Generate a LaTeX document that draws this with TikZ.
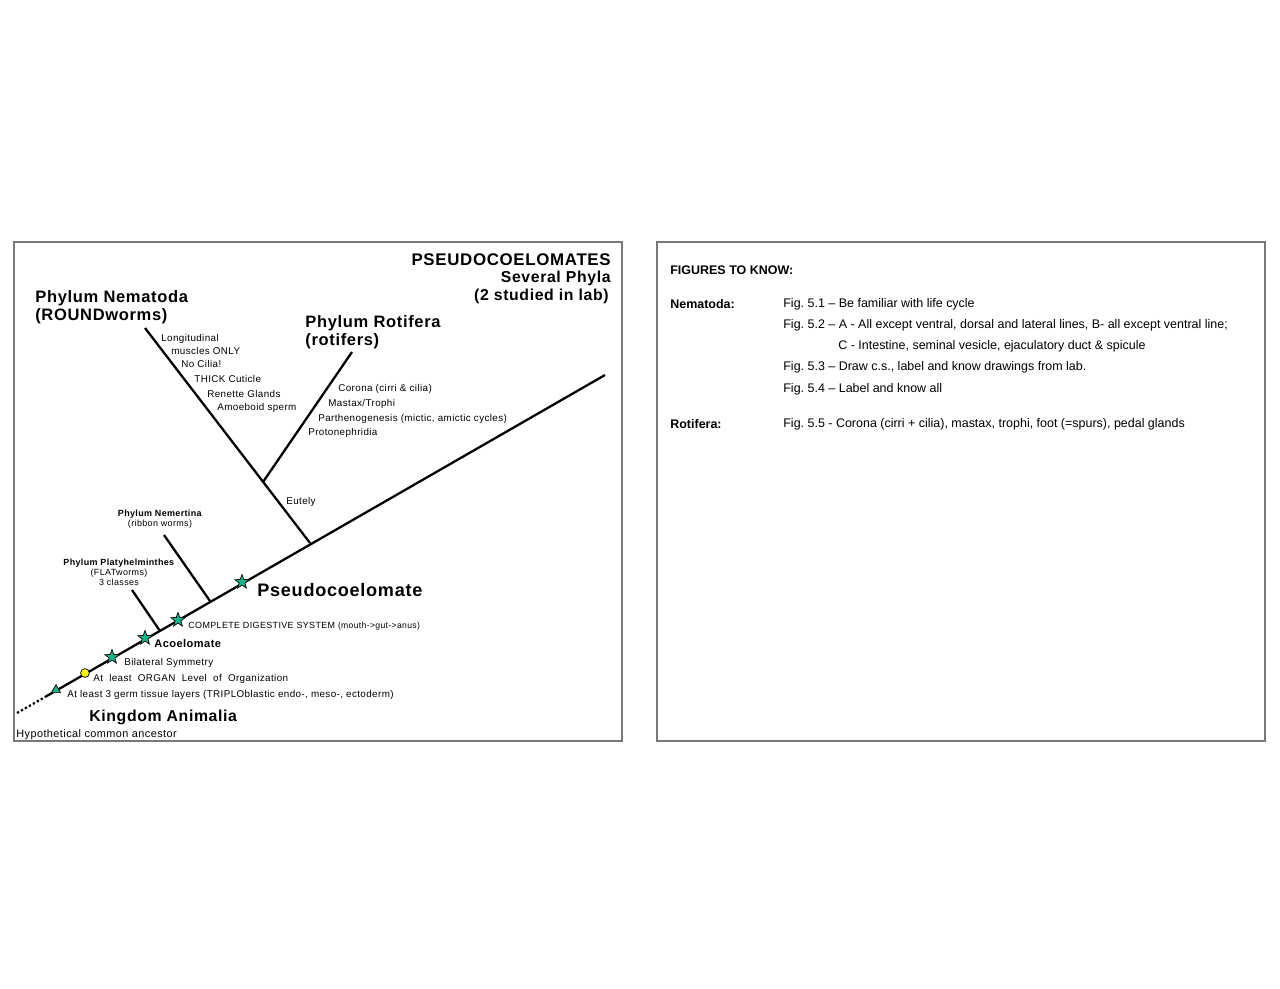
\documentclass[tikz,border=0pt]{standalone}
\usepackage{fontspec}
\setmainfont{Liberation Sans}
\newfontfamily\spaced[LetterSpace=4]{Liberation Sans}
\usepackage{tikz}
\usetikzlibrary{shapes.geometric,positioning}
\usepackage{xcolor}
\definecolor{framegray}{RGB}{120,120,120}
\definecolor{stargreen}{RGB}{26,178,138}
\definecolor{dotyellow}{RGB}{255,250,0}
\frenchspacing

\tikzset{
  panel/.style={draw=framegray,line width=0.6pt},
  branch/.style={line width=1.3pt},
  bigtaxon/.style={anchor=west,inner sep=0pt,align=left,font=\spaced\bfseries\fontsize{9.4}{10.2}\selectfont},
  smalltaxon/.style={inner sep=0pt,align=center,font=\spaced\fontsize{5.1}{5.7}\selectfont},
  trait/.style={anchor=west,inner sep=0pt,font=\spaced\fontsize{5.6}{6.5}\selectfont},
  marker/.style={draw=black,line width=0.4pt,inner sep=0pt},
  traitstar/.style={marker,star,star points=5,star point ratio=2.4,fill=stargreen,minimum size=8.5pt},
  figtext/.style={anchor=west,inner sep=0pt,font=\fontsize{7.1}{8.5}\selectfont},
}

\begin{document}
\begin{tikzpicture}[x=0.02cm,y=-0.02cm]
        \useasboundingbox (0,0) rectangle (1280,989);

        % Panel frames
        \draw[panel] (14,242) rectangle (622,741);
        \draw[panel] (657,242) rectangle (1265,741);

        % Title decoration
        \node[inner sep=0pt,anchor=east,font=\spaced\bfseries\fontsize{9.6}{11}\selectfont] (title) at (611,260) {PSEUDOCOELOMATES};
        \node[inner sep=0pt,anchor=east,font=\spaced\bfseries\fontsize{9}{10}\selectfont] (several) at (611,278) {Several Phyla};
        \node[inner sep=0pt,anchor=east,font=\spaced\bfseries\fontsize{9}{10}\selectfont] (studied) at (609,296) {(2 studied in lab)};

        % Tree points
        \coordinate (ancestor) at (17,713);
        \coordinate (root) at (45,697);
        \coordinate (top) at (605,375);
        \coordinate (forkPlaty) at (160,631);
        \coordinate (forkNemer) at (210,601);
        \coordinate (forkPseudo) at (310,543);
        \coordinate (forkRoti) at (263,482);
        \coordinate (endPlaty) at (132,590);
        \coordinate (endNemer) at (164,535);
        \coordinate (endNema) at (145,328);
        \coordinate (endRoti) at (352,352);

        % Branches
        \draw[branch,dash pattern=on 1.3pt off 1.3pt] (ancestor) -- (root);
        \draw[branch] (root) -- (top);
        \draw[branch] (forkPlaty) -- (endPlaty);
        \draw[branch] (forkNemer) -- (endNemer);
        \draw[branch] (forkPseudo) -- (endNema);
        \draw[branch] (forkRoti) -- (endRoti);

        % Markers on the trunk
        \node[marker,regular polygon,regular polygon sides=3,fill=stargreen,minimum size=6pt] (germ) at (56,690) {};
        \node[marker,circle,fill=dotyellow,minimum size=5pt] (organ) at (85,673) {};
        \node[traitstar] (bilateral) at (112,657) {};
        \node[traitstar] (acoel) at (145,638) {};
        \node[traitstar] (digest) at (178,620) {};
        \node[traitstar] (pseudo) at (242,582) {};

        % Trunk labels
        \node[trait] (germText) at (67,695) {At least 3 germ tissue layers (TRIPLOblastic endo-, meso-, ectoderm)};
        \node[trait] (organText) at (93,679) {At\ \ least\ \ ORGAN\ \ Level\ \ of\ \ Organization};
        \node[trait] (bilateralText) at (124,663) {Bilateral Symmetry};
        \node[trait,font=\spaced\bfseries\fontsize{6.3}{7}\selectfont] (acoelText) at (154,644) {Acoelomate};
        \node[trait,font=\spaced\fontsize{5.1}{6}\selectfont] (digestText) at (188,626) {COMPLETE DIGESTIVE SYSTEM {\fontsize{4.9}{6}\selectfont(mouth->gut->anus)}};
        \node[trait,font=\spaced\bfseries\fontsize{10.3}{12}\selectfont] (pseudoText) at (257,590) {Pseudocoelomate};
        \node[trait,font=\spaced\bfseries\fontsize{9}{10}\selectfont] (kingdom) at (89,717) {Kingdom Animalia};
        \node[trait,font=\spaced\fontsize{6.2}{7}\selectfont] (ancestorText) at (16,735) {Hypothetical common ancestor};

        % Side phyla
        \node[smalltaxon] (platy) at (119,572) {\textbf{Phylum Platyhelminthes}\\(FLATworms)\\3 classes};
        \node[smalltaxon] (nemer) at (160,519) {\textbf{Phylum Nemertina}\\(ribbon worms)};

        % Nematoda
        \node[bigtaxon] (nematoda) at (35,307) {Phylum Nematoda\\(ROUNDworms)};
        \node[trait] (longi) at (161,339) {Longitudinal};
        \node[trait] (muscles) at (171,351) {muscles ONLY};
        \node[trait] (cilia) at (181,364) {No Cilia!};
        \node[trait] (cuticle) at (194,379) {THICK Cuticle};
        \node[trait] (renette) at (207,394) {Renette Glands};
        \node[trait] (sperm) at (217,408) {Amoeboid sperm};
        \node[trait] (eutely) at (286,502) {Eutely};

        % Rotifera
        \node[bigtaxon] (rotifera) at (305,332) {Phylum Rotifera\\(rotifers)};
        \node[trait] (corona) at (338,389) {Corona (cirri \& cilia)};
        \node[trait] (mastax) at (328,404) {Mastax/Trophi};
        \node[trait] (partheno) at (318,419) {Parthenogenesis (mictic, amictic cycles)};
        \node[trait] (proto) at (308,433) {Protonephridia};

        % Figures to know
        \node[figtext] (figures) at (670,270) {\textbf{FIGURES TO KNOW:}};
        \node[figtext] (nemaKey) at (670,304) {\textbf{Nematoda:}};
        \node[figtext] (fig51) at (783,304) {Fig. 5.1 – Be familiar with life cycle};
        \node[figtext] (fig52) at (783,325) {Fig. 5.2 – A - All except ventral, dorsal and lateral lines, B- all except ventral line;};
        \node[figtext] (fig52c) at (838,346) {C - Intestine, seminal vesicle, ejaculatory duct \& spicule};
        \node[figtext] (fig53) at (783,367) {Fig. 5.3 – Draw c.s., label and know drawings from lab.};
        \node[figtext] (fig54) at (783,389) {Fig. 5.4 – Label and know all};
        \node[figtext] (rotiKey) at (670,424) {\textbf{Rotifera:}};
        \node[figtext] (fig55) at (783,424) {Fig. 5.5 - Corona (cirri + cilia), mastax, trophi, foot (=spurs), pedal glands};
\end{tikzpicture}
\end{document}
